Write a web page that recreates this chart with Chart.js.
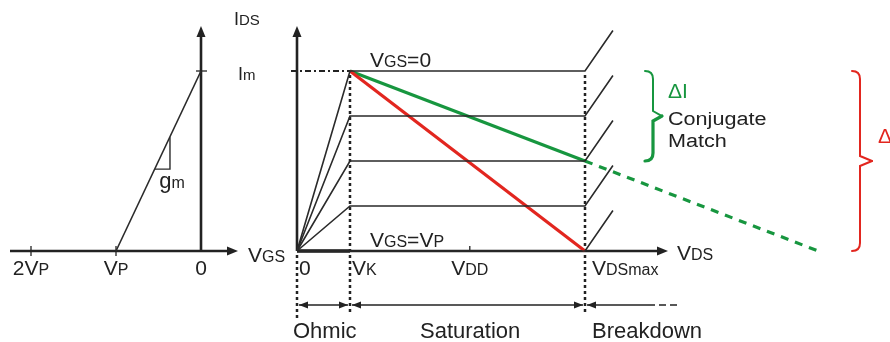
<!DOCTYPE html>
<html>
<head>
<meta charset="utf-8">
<script src="https://cdn.jsdelivr.net/npm/chart.js@4/dist/chart.umd.min.js"></script>
<style>
body{margin:0;background:#fff;}
canvas{display:block;}
</style>
</head>
<body>
<canvas id="fetChart" width="890" height="342"></canvas>
<script>
// output characteristic: x in volts (VDSmax = 10), y in quarters of Im
const levels = [4, 3, 2, 1, 0];
const vK = 1.84;
const vDD = 6;
const vMax = 10;
const breakdownRun = 0.97;
const breakdownRise = 0.9;
const redLoad = [[vK, 4], [vMax, 0]];
const greenLoad = [[vK, 4], [vMax, 2]];
const greenExt = [[vMax, 2], [18.1, 0]];

// transfer characteristic: x in units of |VP|
const vP = -1;
const transfer = [[vP, 0], [0, 4]];
const gmTriangle = [[-0.545, 1.82], [-0.365, 1.82], [-0.365, 2.53]];
const vgsTicks = [[-2, ['2V', 'P']], [vP, ['V', 'P']], [0, ['0']]];

const ink = '#222';
const red = '#e2261f';
const green = '#17963f';
const font = "'Liberation Sans', Arial, sans-serif";

const pts = arr => arr.map(p => ({x: p[0], y: p[1]}));

const datasets = [];
levels.forEach(l => {
  datasets.push({
    data: pts([[0, 0], [vK, l], [vMax, l], [vMax + breakdownRun, l + breakdownRise]]),
    borderColor: '#2a2a2a',
    borderWidth: 1.6
  });
});
datasets.push({data: pts(redLoad), borderColor: red, borderWidth: 3.2});
datasets.push({data: pts(greenLoad), borderColor: green, borderWidth: 3.2});
datasets.push({data: pts(greenExt), borderColor: green, borderWidth: 3.2, borderDash: [8, 7]});
datasets.push({data: pts(transfer), xAxisID: 'xg', borderColor: '#2a2a2a', borderWidth: 1.6});
datasets.push({data: pts(gmTriangle), xAxisID: 'xg', borderColor: '#2a2a2a', borderWidth: 1.4});

function seg(ctx, x1, y1, x2, y2, w, color, dash) {
  ctx.save();
  ctx.beginPath();
  ctx.lineWidth = w;
  ctx.strokeStyle = color || ink;
  ctx.setLineDash(dash || []);
  ctx.moveTo(x1, y1);
  ctx.lineTo(x2, y2);
  ctx.stroke();
  ctx.restore();
}

function head(ctx, x, y, dir, len, half) {
  len = len || 11;
  half = half || 4.5;
  ctx.save();
  ctx.fillStyle = ink;
  ctx.beginPath();
  if (dir == 'right') { ctx.moveTo(x, y); ctx.lineTo(x - len, y - half); ctx.lineTo(x - len, y + half); }
  if (dir == 'left') { ctx.moveTo(x, y); ctx.lineTo(x + len, y - half); ctx.lineTo(x + len, y + half); }
  if (dir == 'up') { ctx.moveTo(x, y); ctx.lineTo(x - half, y + len); ctx.lineTo(x + half, y + len); }
  ctx.closePath();
  ctx.fill();
  ctx.restore();
}

// parts alternate normal / subscript
function label(ctx, x, y, parts, opt) {
  opt = opt || {};
  const big = opt.big || 21, small = opt.small || 16;
  const sx = opt.scaleX || 1;
  ctx.save();
  ctx.fillStyle = opt.color || ink;
  ctx.textBaseline = 'alphabetic';
  ctx.textAlign = 'left';
  let w = 0;
  parts.forEach((p, i) => {
    ctx.font = (i % 2 ? small : big) + 'px ' + font;
    w += ctx.measureText(p).width * sx;
  });
  let cx = opt.center ? x - w / 2 : x;
  ctx.translate(cx, y);
  ctx.scale(sx, 1);
  cx = 0;
  parts.forEach((p, i) => {
    ctx.font = (i % 2 ? small : big) + 'px ' + font;
    ctx.fillText(p, cx, 0);
    cx += ctx.measureText(p).width;
  });
  ctx.restore();
}

function brace(ctx, x, top, bottom, tip, color, w1, w2) {
  const mid = (top + bottom) / 2;
  const xv = x + 8;
  ctx.save();
  ctx.strokeStyle = color;
  ctx.lineCap = 'round';
  ctx.beginPath();
  ctx.lineWidth = w1;
  ctx.moveTo(x, top);
  ctx.quadraticCurveTo(xv, top, xv, top + 8);
  ctx.lineTo(xv, mid - 5);
  ctx.lineTo(tip, mid);
  ctx.stroke();
  ctx.beginPath();
  ctx.lineWidth = w2;
  ctx.moveTo(tip, mid);
  ctx.lineTo(xv, mid + 5);
  ctx.lineTo(xv, bottom - 8);
  ctx.quadraticCurveTo(xv, bottom, x, bottom);
  ctx.stroke();
  ctx.restore();
}

const drawing = {
  id: 'drawing',
  beforeDatasetsDraw(chart) {
    const ctx = chart.ctx;
    const x = chart.scales.x, xg = chart.scales.xg, y = chart.scales.y;
    const y0 = y.getPixelForValue(0), yIm = y.getPixelForValue(4);

    // transfer axes
    const g0 = xg.getPixelForValue(0);
    seg(ctx, 10, y0, 228, y0, 2.6);
    head(ctx, 238, y0, 'right');
    seg(ctx, g0, y0, g0, 37, 2.6);
    head(ctx, g0, 26, 'up');
    vgsTicks.forEach(t => {
      if (t[0] != 0) seg(ctx, xg.getPixelForValue(t[0]), y0 - 5, xg.getPixelForValue(t[0]), y0 + 5, 1.3);
    });
    seg(ctx, g0 - 5, yIm, g0 + 6, yIm, 1.3);

    // output axes
    const d0 = x.getPixelForValue(0), dK = x.getPixelForValue(vK), dM = x.getPixelForValue(vMax);
    seg(ctx, d0, y0, 658, y0, 2.6);
    seg(ctx, d0, y0, dK, y0, 3.6);
    head(ctx, 668, y0, 'right');
    seg(ctx, d0, y0, d0, 37, 2.6);
    head(ctx, d0, 26, 'up');
    seg(ctx, x.getPixelForValue(vDD), y0 - 5, x.getPixelForValue(vDD), y0, 1.3);

    // guides
    seg(ctx, d0 - 6, yIm, dK, yIm, 2, ink, [6, 3, 2, 3]);
    seg(ctx, d0, y0 + 4, d0, 318, 2.5, ink, [3, 3]);
    seg(ctx, dK, yIm + 4, dK, 312, 2.5, ink, [3, 3]);
    seg(ctx, dM, yIm + 4, dM, 312, 2.5, ink, [3, 3]);

    // region arrows
    const ya = 305;
    seg(ctx, d0 + 2, ya, dK - 2, ya, 1.6);
    head(ctx, d0 + 2, ya, 'left', 9, 3.5); head(ctx, dK - 2, ya, 'right', 9, 3.5);
    seg(ctx, dK + 2, ya, dM - 2, ya, 1.6);
    head(ctx, dK + 2, ya, 'left', 9, 3.5); head(ctx, dM - 2, ya, 'right', 9, 3.5);
    seg(ctx, dM + 2, ya, 648, ya, 1.6);
    head(ctx, dM + 2, ya, 'left', 9, 3.5);
    seg(ctx, 648, ya, 680, ya, 1.6, ink, [7, 4]);
  },
  afterDatasetsDraw(chart) {
    const ctx = chart.ctx;
    const x = chart.scales.x, xg = chart.scales.xg, y = chart.scales.y;
    const y0 = y.getPixelForValue(0), yIm = y.getPixelForValue(4);

    // transfer labels
    label(ctx, 234, 25, ['I', 'DS'], {big: 18, small: 15});
    label(ctx, 238, 80, ['I', 'm'], {big: 18, small: 15});
    vgsTicks.forEach(t => label(ctx, xg.getPixelForValue(t[0]), 275, t[1], {center: true}));
    label(ctx, 248, 262, ['V', 'GS']);
    label(ctx, xg.getPixelForValue(-0.49), 188, ['g', 'm'], {big: 22, small: 16});

    // output labels
    label(ctx, x.getPixelForValue(0) + 2, 275, ['0']);
    label(ctx, x.getPixelForValue(vK) + 2, 275, ['V', 'K']);
    label(ctx, x.getPixelForValue(vDD), 275, ['V', 'DD'], {center: true});
    label(ctx, x.getPixelForValue(vMax) + 7, 275, ['V', 'DSmax']);
    label(ctx, 677, 260, ['V', 'DS']);
    label(ctx, 370, yIm - 4, ['V', 'GS', '=0']);
    label(ctx, 370, y0 - 4, ['V', 'GS', '=V', 'P']);
    label(ctx, 293, 338, ['Ohmic'], {big: 22});
    label(ctx, 420, 338, ['Saturation'], {big: 22});
    label(ctx, 592, 338, ['Breakdown'], {big: 22});

    // braces and notes
    brace(ctx, 645, yIm, y.getPixelForValue(2), 662, green, 2, 3.2);
    label(ctx, 668, 98, ['ΔI'], {color: green});
    label(ctx, 668, 125, ['Conjugate'], {big: 18, scaleX: 1.2});
    label(ctx, 668, 147, ['Match'], {big: 18, scaleX: 1.2});
    brace(ctx, 852, yIm, y0, 872, red, 2, 2);
    label(ctx, 878, 143, ['Δ'], {color: red});
  }
};

new Chart(document.getElementById('fetChart'), {
  type: 'scatter',
  data: {datasets: datasets},
  options: {
    responsive: false,
    animation: false,
    showLine: true,
    layout: {padding: 0},
    elements: {point: {radius: 0}, line: {tension: 0, borderCapStyle: 'butt'}},
    plugins: {legend: {display: false}, tooltip: {enabled: false}},
    scales: {
      x: {type: 'linear', display: false, min: -10.3125, max: 20.5903},
      xg: {type: 'linear', axis: 'x', position: 'bottom', display: false, min: -2.3647, max: 8.1059},
      y: {type: 'linear', display: false, min: -2.0222, max: 5.5778}
    }
  },
  plugins: [drawing]
});
</script>
</body>
</html>
